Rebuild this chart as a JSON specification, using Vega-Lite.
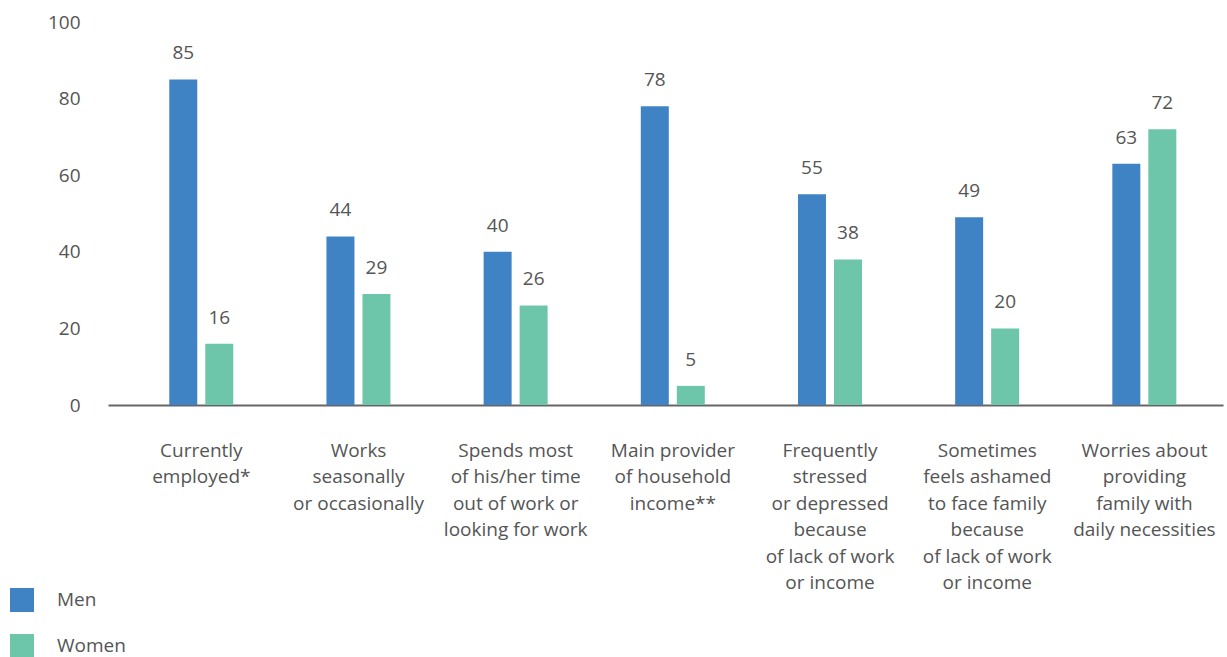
{
  "$schema": "https://vega.github.io/schema/vega-lite/v6.json",
  "width": 1115,
  "height": 383,
  "autosize": {"type": "none"},
  "padding": {"left": 108, "top": 22, "right": 4, "bottom": 252},
  "background": "white",
  "config": {
    "view": {"stroke": null},
    "font": "Open Sans",
    "text": {"font": "Open Sans"}
  },
  "data": {
    "values": [
      {"category": "Currently|employed*", "sex": "Men", "value": 85},
      {"category": "Currently|employed*", "sex": "Women", "value": 16},
      {"category": "Works|seasonally|or occasionally", "sex": "Men", "value": 44},
      {"category": "Works|seasonally|or occasionally", "sex": "Women", "value": 29},
      {"category": "Spends most|of his/her time|out of work or|looking for work", "sex": "Men", "value": 40},
      {"category": "Spends most|of his/her time|out of work or|looking for work", "sex": "Women", "value": 26},
      {"category": "Main provider|of household|income**", "sex": "Men", "value": 78},
      {"category": "Main provider|of household|income**", "sex": "Women", "value": 5},
      {"category": "Frequently|stressed|or depressed|because|of lack of work|or income", "sex": "Men", "value": 55},
      {"category": "Frequently|stressed|or depressed|because|of lack of work|or income", "sex": "Women", "value": 38},
      {"category": "Sometimes|feels ashamed|to face family|because|of lack of work|or income", "sex": "Men", "value": 49},
      {"category": "Sometimes|feels ashamed|to face family|because|of lack of work|or income", "sex": "Women", "value": 20},
      {"category": "Worries about|providing|family with|daily necessities", "sex": "Men", "value": 63},
      {"category": "Worries about|providing|family with|daily necessities", "sex": "Women", "value": 72}
    ]
  },
  "encoding": {
    "x": {
      "field": "category",
      "type": "nominal",
      "sort": null,
      "scale": {"paddingInner": 0, "paddingOuter": 0.047, "align": 1},
      "axis": {
        "title": null,
        "labelAngle": 0,
        "ticks": false,
        "domainColor": "#666666",
        "domainWidth": 2,
        "labelFontSize": 19,
        "labelColor": "#555555",
        "labelPadding": 36,
        "labelLineHeight": 26.5,
        "labelLimit": 300,
        "labelBaseline": "top",
        "labelExpr": "split(datum.label, '|')"
      }
    },
    "xOffset": {
      "field": "sex",
      "type": "nominal",
      "scale": {"range": [46.5, 110.5], "paddingInner": 0.2222, "paddingOuter": 0}
    },
    "y": {
      "field": "value",
      "type": "quantitative",
      "scale": {"domain": [0, 100], "nice": false},
      "axis": {
        "title": null,
        "values": [0, 20, 40, 60, 80, 100],
        "grid": false,
        "domain": false,
        "ticks": false,
        "labelFontSize": 19,
        "labelColor": "#555555",
        "labelPadding": 28
      }
    }
  },
  "layer": [
    {
      "mark": {"type": "bar"},
      "encoding": {
        "color": {
          "field": "sex",
          "type": "nominal",
          "scale": {"domain": ["Men", "Women"], "range": ["#4083c4", "#6dc6aa"]},
          "legend": {
            "title": null,
            "orient": "none",
            "legendX": -98,
            "legendY": 566,
            "symbolType": "square",
            "symbolSize": 576,
            "symbolStrokeWidth": 0,
            "labelFontSize": 19,
            "labelColor": "#555555",
            "labelOffset": 23,
            "rowPadding": 22,
            "direction": "vertical"
          }
        }
      }
    },
    {
      "mark": {"type": "text", "baseline": "middle", "dy": -26, "fontSize": 19, "color": "#555555"},
      "encoding": {
        "text": {"field": "value", "type": "quantitative"}
      }
    }
  ]
}
